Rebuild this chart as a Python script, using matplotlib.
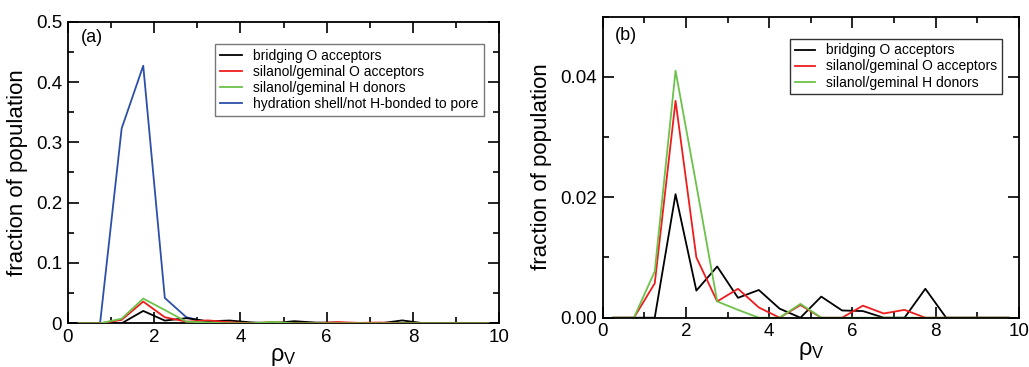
import matplotlib
matplotlib.use("Agg")
import matplotlib.pyplot as plt
from matplotlib.ticker import MultipleLocator

plt.rcParams["font.family"] = ["Liberation Sans", "DejaVu Sans"]
plt.rcParams["mathtext.fontset"] = "custom"
plt.rcParams["mathtext.rm"] = "Liberation Sans"
plt.rcParams["mathtext.it"] = "Liberation Sans:italic"

# bin centres of rho_V
rho = [0.25, 0.75, 1.25, 1.75, 2.25, 2.75, 3.25, 3.75, 4.25, 4.75,
       5.25, 5.75, 6.25, 6.75, 7.25, 7.75, 8.25, 8.75, 9.25, 9.75]

bridging_o = [0, 0, 0, 0.0205, 0.0045, 0.0085, 0.0033, 0.0046, 0.0015, 0,
              0.0035, 0.0012, 0.0011, 0, 0, 0.0048, 0, 0, 0, 0]
silanol_o = [0, 0, 0.0057, 0.0360, 0.0100, 0.0027, 0.0048, 0.0017, 0, 0.0021,
             0, 0, 0.0020, 0.0007, 0.0013, 0, 0, 0, 0, 0]
silanol_h = [0, 0, 0.0077, 0.0410, 0.0220, 0.0027, 0.0013, 0, 0, 0.0023,
             0, 0, 0, 0, 0, 0, 0, 0, 0, 0]
hydration = [0, 0, 0.323, 0.427, 0.042, 0.010, 0.002, 0, 0, 0,
             0, 0, 0, 0, 0, 0, 0, 0, 0, 0]

labels = ["bridging O acceptors", "silanol/geminal O acceptors",
          "silanol/geminal H donors", "hydration shell/not H-bonded to pore"]
colors = ["#000000", "#ee1c1c", "#6cc24a", "#2c4fa8"]

fig = plt.figure(figsize=(10.29, 3.67), dpi=100)
W, H = 1029, 367
ax_a = fig.add_axes([67.7 / W, 1 - 323.3 / H, (499.3 - 67.7) / W, (323.3 - 21.7) / H])
ax_b = fig.add_axes([602.7 / W, 1 - 317.7 / H, (1019 - 602.7) / W, (317.7 - 16.5) / H])


def style(ax, ymax, ymaj, ymin, yfmt):
    ax.set_xlim(0, 10)
    ax.set_ylim(0, ymax)
    ax.xaxis.set_major_locator(MultipleLocator(2))
    ax.xaxis.set_minor_locator(MultipleLocator(1))
    ax.yaxis.set_major_locator(MultipleLocator(ymaj))
    ax.yaxis.set_minor_locator(MultipleLocator(ymin))
    ax.yaxis.set_major_formatter(yfmt)
    ax.tick_params(which="both", direction="in", top=True, right=True,
                   labelsize=13.5, width=1.2, pad=4)
    ax.tick_params(which="major", length=8)
    ax.tick_params(which="minor", length=4)
    for s in ax.spines.values():
        s.set_linewidth(1.3)
    ax.set_xlabel(r"$\mathrm{\rho}_\mathrm{V}$", fontsize=17, labelpad=0)
    ax.set_ylabel("fraction of population", fontsize=16, labelpad=6)


series = [bridging_o, silanol_o, silanol_h, hydration]

# (a) -- pore curves drawn over the hydration-shell curve
for k, (ys, c, lab) in enumerate(zip(series, colors, labels)):
    ax_a.plot(rho, ys, color=c, lw=1.3, label=lab, zorder=3 if k < 3 else 2)
style(ax_a, 0.5, 0.1, 0.05,
      lambda v, p: "0" if abs(v) < 1e-9 else f"{v:.1f}")
ax_a.text(0.03, 0.975, "(a)", transform=ax_a.transAxes, fontsize=13, va="top")
leg = ax_a.legend(loc="upper right", bbox_to_anchor=(0.98, 0.95), fontsize=10,
                  frameon=True, fancybox=False, edgecolor="#555555",
                  handlelength=1.6, borderpad=0.35, labelspacing=0.15)
leg.get_frame().set_linewidth(1.0)

# (b)
for ys, c, lab in zip(series[:3], colors[:3], labels[:3]):
    ax_b.plot(rho, ys, color=c, lw=1.3, label=lab)
style(ax_b, 0.05, 0.02, 0.01, lambda v, p: f"{v:.2f}")
ax_b.text(0.03, 0.965, "(b)", transform=ax_b.transAxes, fontsize=13, va="top")
leg = ax_b.legend(loc="upper right", bbox_to_anchor=(0.975, 0.95), fontsize=10,
                  frameon=True, fancybox=False, edgecolor="#000000",
                  handlelength=1.4, borderpad=0.35, labelspacing=0.15)
leg.get_frame().set_linewidth(1.0)

fig.savefig("out.png", dpi=100)
